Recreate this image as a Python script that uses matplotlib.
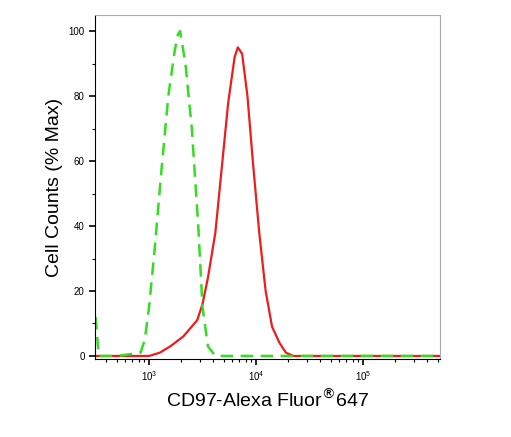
import numpy as np
import matplotlib
matplotlib.use("Agg")
import matplotlib.pyplot as plt
from matplotlib.ticker import LogLocator, NullFormatter, MultipleLocator

plt.rcParams["font.family"] = ["Liberation Sans", "DejaVu Sans"]

# log10 of fluorescence intensity and % max counts
iso_logx = [2.50, 2.52, 2.53, 2.70, 2.92, 2.96, 3.00, 3.05, 3.11, 3.18, 3.24, 3.27, 3.29, 3.34, 3.40, 3.46, 3.50, 3.55, 3.62, 3.80, 4.20, 4.60, 5.00, 5.72]
iso_y    = [12,   4,    0,    0,    1,    5,    15,   32,   55,   80,   94,   99,   100,  90,   70,   40,   15,   3,    0,    0,    0,    0,    0,    0]

cd97_logx = [2.50, 3.00, 3.10, 3.20, 3.32, 3.45, 3.50, 3.55, 3.62, 3.68, 3.74, 3.80, 3.83, 3.87, 3.92, 3.97, 4.03, 4.09, 4.15, 4.22, 4.28, 4.35, 4.50, 5.00, 5.72]
cd97_y    = [0,    0,    1,    3,    6,    11,   16,   24,   38,   58,   78,   92,   95,   93,   80,   60,   38,   20,   9,    4,    1,    0,    0,    0,    0]

fig = plt.figure(figsize=(5.11, 4.37), dpi=100)
ax = fig.add_axes([0.186, 0.178, 0.675, 0.788])

ax.plot(10 ** np.array(cd97_logx), cd97_y, color="#ee1c1c", lw=1.6)
ax.plot(10 ** np.array(iso_logx), iso_y, color="#33dd22", lw=1.8, ls=(0, (5, 3)))

ax.set_xscale("log")
ax.set_xlim(10 ** 2.495, 10 ** 5.72)
ax.set_ylim(-1, 105)
ax.xaxis.set_major_locator(LogLocator(base=10, numticks=10))
ax.xaxis.set_minor_locator(LogLocator(base=10, subs=np.arange(2, 10), numticks=10))
ax.xaxis.set_minor_formatter(NullFormatter())
ax.yaxis.set_major_locator(MultipleLocator(20))
ax.yaxis.set_minor_locator(MultipleLocator(10))

ax.tick_params(axis="both", which="major", labelsize=7, length=4, width=1.2, direction="out")
ax.tick_params(axis="both", which="minor", length=2.5, width=0.8)
for side in ["top", "right"]:
    ax.spines[side].set_color("#aaaaaa")
    ax.spines[side].set_linewidth(0.8)

ax.set_ylabel("Cell Counts (% Max)", fontsize=14)
ax.set_xlabel("CD97-Alexa Fluor$^{\\circledR}$647", fontsize=14)

fig.savefig("out.png", dpi=100)
